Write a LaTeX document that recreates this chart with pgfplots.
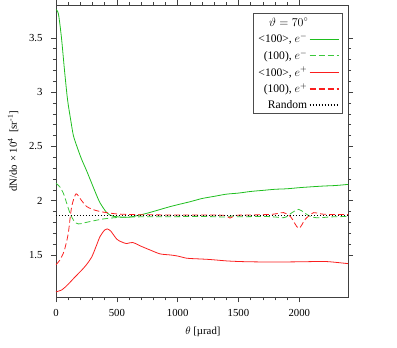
\documentclass[border=0pt]{standalone}
\usepackage{pgfplots}
\pgfplotsset{compat=1.18}
\usepackage{fontspec}
\setmainfont{Liberation Serif}

\definecolor{greenA}{HTML}{1EBE1E}
\definecolor{greenB}{HTML}{3CC83C}
\definecolor{redA}{HTML}{FA1E1E}

\begin{document}
\begin{tikzpicture}
\begin{axis}[
    scale only axis,
    width=292bp,
    height=292bp,
    xmin=0, xmax=2400,
    ymin=1.11, ymax=3.8,
    xtick={0,500,1000,1500,2000},
    ytick={1.5,2,2.5,3,3.5},
    minor x tick num=4,
    minor y tick num=4,
    tick align=outside,
    major tick length=5bp,
    minor tick length=3bp,
    axis line style={draw=black!75, line width=1pt},
    every tick/.style={black!75, line width=0.6pt},
    font=\fontsize{10.8}{12.5}\selectfont,
    /pgf/number format/assume math mode=true,
    /pgf/number format/1000 sep={},
    yticklabel style={xshift=-5bp},
    xticklabel style={yshift=-4bp},
    xlabel={$\theta$ [µrad]},
    ylabel={dN/do × 10\textsuperscript{4}\ \ [sr\textsuperscript{-1}]},
    every axis x label/.style={at={(axis description cs:0.503,-0.12)}, anchor=center},
    every axis y label/.style={at={(axis description cs:-0.147,0.5)}, rotate=90, anchor=center},
    legend plot pos=right,
    legend cell align=right,
    legend style={at={(axis description cs:0.982,0.972)}, anchor=north east,
        draw=black!70, line width=1pt,
        font=\fontsize{11.6}{13.5}\selectfont,
        row sep=2bp, inner xsep=3bp, inner ysep=2bp},
    legend image code/.code={\draw[#1, line width=1.1pt] (0bp,0bp) -- (29bp,0bp);},
]
\addlegendimage{empty legend}
\addlegendentry{\makebox[0pt][l]{\hspace{-38bp}$\vartheta = 70^\circ$}}

\addplot[draw=greenA, line width=0.8pt, smooth] coordinates {
  (0,3.76) (20,3.72) (45,3.50) (70,3.20) (95,2.93) (120,2.75) (143,2.60)
  (175,2.49) (211,2.38) (250,2.28) (290,2.17) (330,2.06) (362,1.98)
  (417,1.89) (460,1.86) (500,1.852) (600,1.848) (750,1.885) (940,1.946)
  (1100,1.99) (1200,2.02) (1300,2.04) (1400,2.06) (1500,2.07) (1600,2.085)
  (1700,2.095) (1800,2.105) (1900,2.11) (2000,2.12) (2100,2.128)
  (2200,2.135) (2300,2.14) (2400,2.15)
};
\addlegendentry{<100>, $e^{-}$}

\addplot[draw=greenB, line width=0.8pt, dash pattern=on 6bp off 3bp, smooth] coordinates {
  (0,2.16) (30,2.13) (60,2.07) (90,1.97) (115,1.885) (150,1.81) (184,1.786)
  (230,1.795) (280,1.808) (390,1.832) (500,1.845) (600,1.85) (800,1.852)
  (1000,1.853) (1200,1.855) (1400,1.85) (1450,1.86) (1500,1.852)
  (1700,1.855) (1800,1.85) (1880,1.845) (1940,1.89) (1994,1.92) (2040,1.89)
  (2090,1.855) (2150,1.842) (2250,1.85) (2400,1.855)
};
\addlegendentry{(100), $e^{-}$}

\addplot[draw=redA, line width=0.8pt, smooth] coordinates {
  (0,1.16) (50,1.18) (100,1.23) (150,1.29) (211,1.36) (250,1.41) (293,1.48)
  (330,1.58) (362,1.67) (400,1.73) (420,1.74) (450,1.72) (500,1.645)
  (540,1.62) (580,1.605) (630,1.615) (700,1.58) (773,1.546) (856,1.51)
  (940,1.50) (1000,1.49) (1075,1.47) (1150,1.465) (1240,1.46) (1300,1.455)
  (1405,1.445) (1500,1.44) (1600,1.437) (1789,1.435) (2000,1.437)
  (2200,1.44) (2300,1.432) (2400,1.42)
};
\addlegendentry{<100>, $e^{+}$}

\addplot[draw=redA, line width=0.8pt, dash pattern=on 6bp off 3bp, smooth] coordinates {
  (0,1.41) (30,1.45) (60,1.515) (80,1.59) (101,1.70) (115,1.83) (129,1.946)
  (150,2.03) (165,2.063) (180,2.05) (198,2.02) (225,1.98) (252,1.946)
  (300,1.92) (362,1.90) (430,1.888) (499,1.878) (600,1.873) (773,1.87)
  (1000,1.868) (1200,1.868) (1380,1.865) (1430,1.84) (1480,1.865)
  (1600,1.868) (1780,1.875) (1871,1.89) (1930,1.85) (1994,1.746)
  (2050,1.83) (2118,1.89) (2200,1.875) (2400,1.872)
};
\addlegendentry{(100), $e^{+}$}

\addplot[draw=black, line width=0.8pt, dash pattern=on 1.2bp off 1.8bp] coordinates {
  (0,1.865) (2400,1.865)
};
\addlegendentry{Random}
\end{axis}
\path (-56bp,-50bp) rectangle (341bp,297bp);
\end{tikzpicture}
\end{document}
